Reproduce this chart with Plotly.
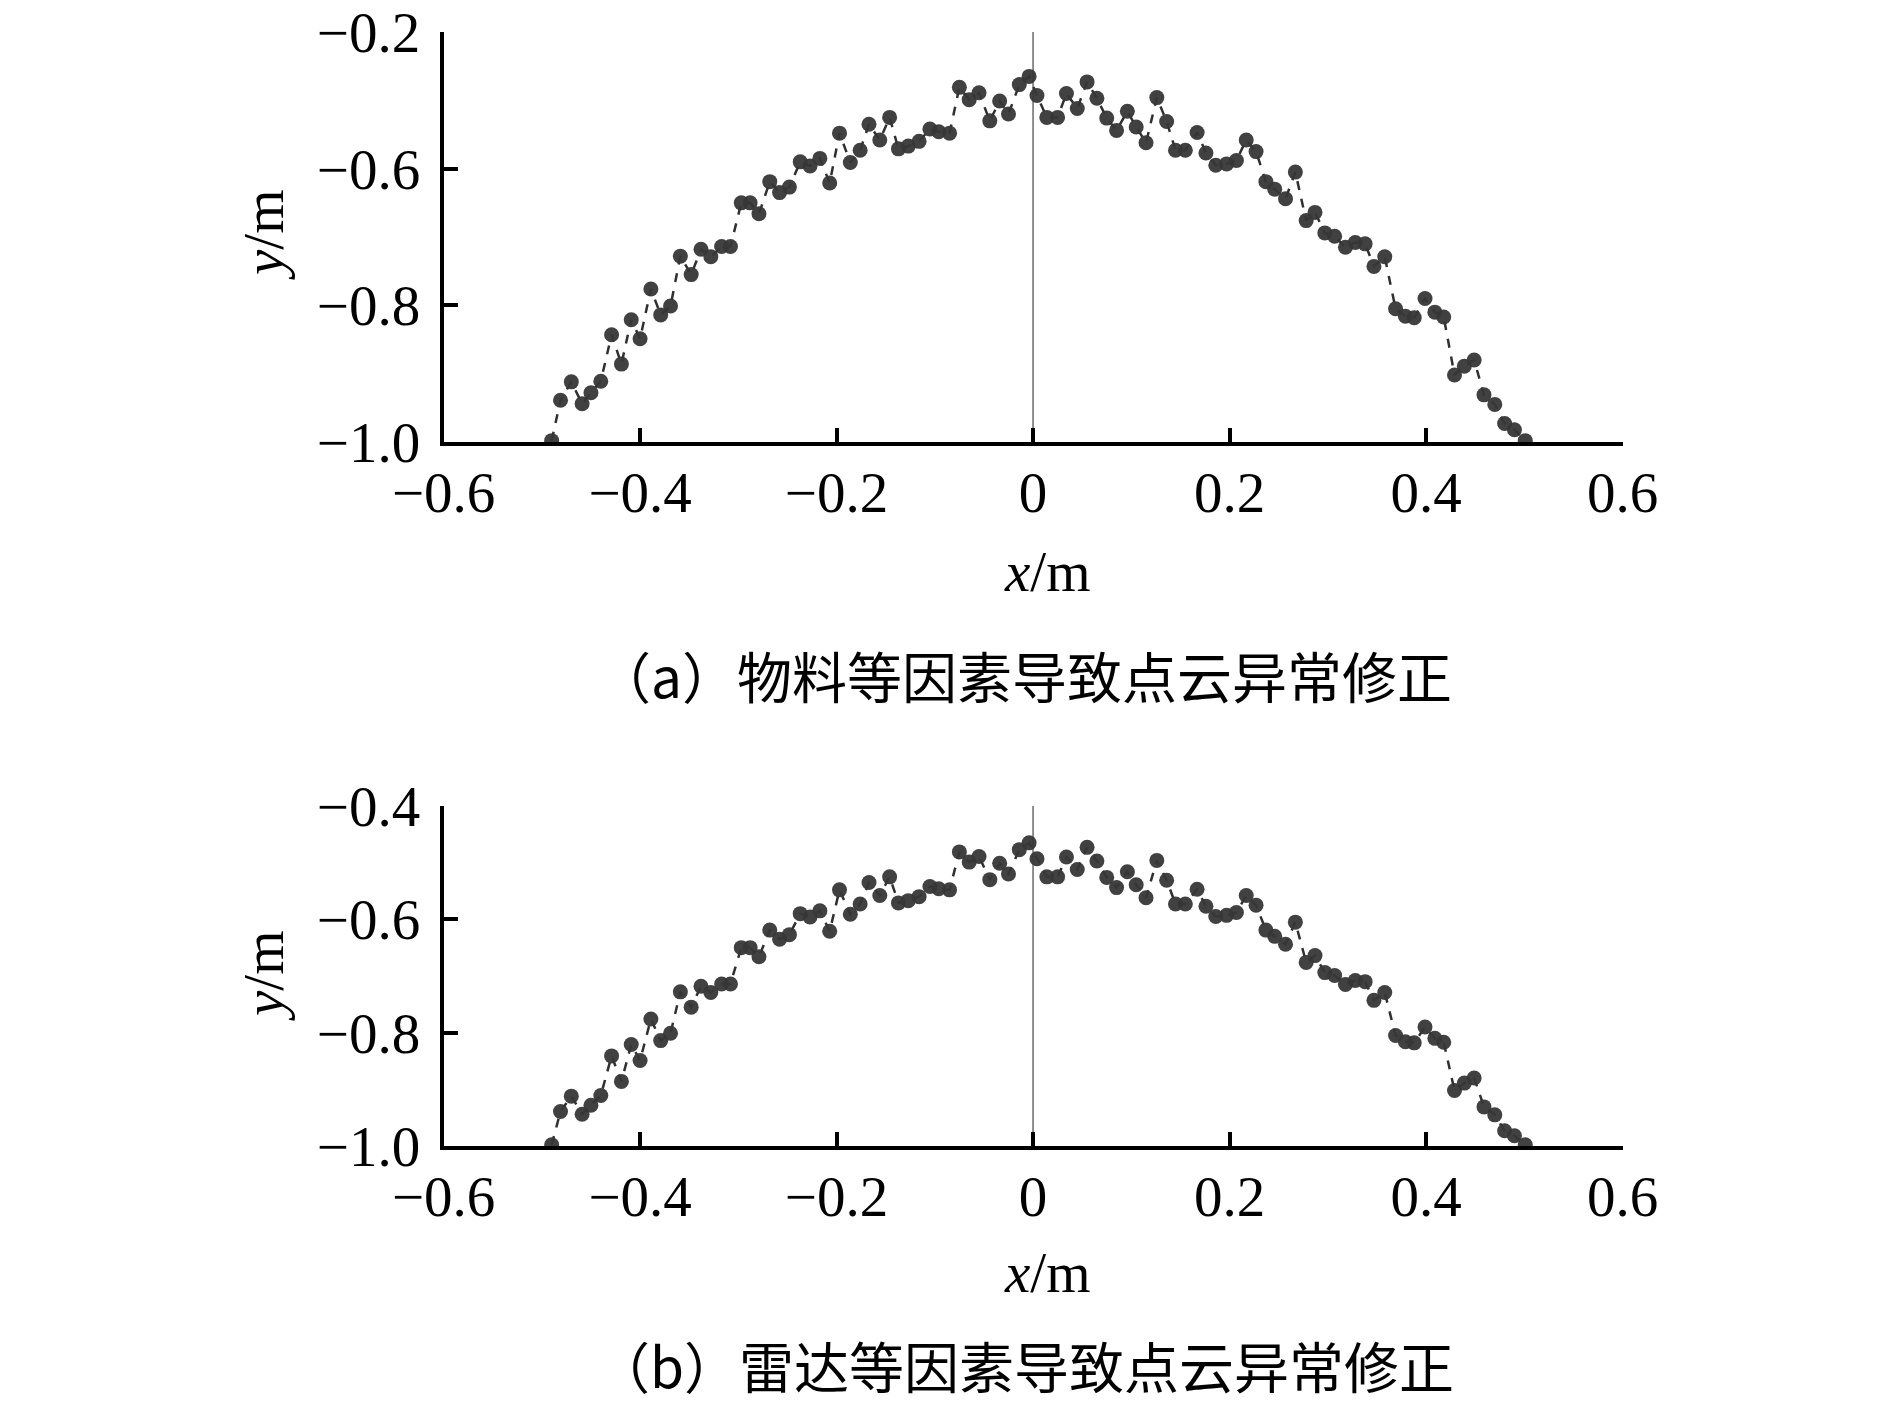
import plotly.graph_objects as go

# ---- data ----
x_pts = [-0.490,-0.481,-0.470,-0.459,-0.450,-0.440,-0.429,-0.419,-0.409,-0.400,
         -0.389,-0.379,-0.369,-0.359,-0.348,-0.338,-0.328,-0.317,-0.308,-0.297,
         -0.288,-0.279,-0.268,-0.258,-0.248,-0.237,-0.227,-0.217,-0.207,-0.197,
         -0.186,-0.176,-0.167,-0.156,-0.146,-0.137,-0.127,-0.116,-0.105,-0.096,
         -0.085,-0.075,-0.065,-0.055,-0.044,-0.034,-0.025,-0.014,-0.004,
         0.004,0.014,0.025,0.034,0.045,0.055,0.065,0.075,0.085,0.096,
         0.105,0.115,0.126,0.136,0.145,0.155,0.167,0.176,0.186,0.197,
         0.207,0.217,0.227,0.237,0.246,0.257,0.267,0.278,0.287,0.297,
         0.307,0.318,0.328,0.338,0.347,0.358,0.369,0.379,0.388,0.399,
         0.409,0.418,0.429,0.439,0.449,0.459,0.470,0.480,0.490,0.501]

y_a = [-0.998,-0.939,-0.912,-0.944,-0.928,-0.911,-0.843,-0.886,-0.821,-0.849,
       -0.776,-0.814,-0.801,-0.728,-0.755,-0.718,-0.729,-0.714,-0.714,-0.650,
       -0.650,-0.666,-0.619,-0.635,-0.627,-0.590,-0.596,-0.585,-0.621,-0.548,
       -0.591,-0.573,-0.535,-0.558,-0.525,-0.571,-0.567,-0.560,-0.542,-0.546,
       -0.548,-0.481,-0.499,-0.489,-0.530,-0.501,-0.520,-0.477,-0.465,
       -0.493,-0.525,-0.525,-0.490,-0.512,-0.473,-0.497,-0.526,-0.544,-0.516,
       -0.539,-0.562,-0.496,-0.531,-0.573,-0.573,-0.547,-0.577,-0.595,-0.593,
       -0.588,-0.558,-0.575,-0.619,-0.630,-0.644,-0.605,-0.676,-0.664,-0.694,
       -0.699,-0.715,-0.708,-0.710,-0.743,-0.729,-0.805,-0.816,-0.818,-0.790,
       -0.810,-0.817,-0.902,-0.889,-0.880,-0.931,-0.945,-0.973,-0.982,-0.998]

y_b = [-0.998,-0.939,-0.912,-0.944,-0.928,-0.911,-0.841,-0.886,-0.821,-0.849,
       -0.776,-0.814,-0.801,-0.728,-0.755,-0.718,-0.729,-0.714,-0.714,-0.650,
       -0.650,-0.666,-0.619,-0.635,-0.627,-0.590,-0.596,-0.585,-0.621,-0.548,
       -0.591,-0.573,-0.535,-0.558,-0.525,-0.571,-0.567,-0.560,-0.542,-0.546,
       -0.548,-0.481,-0.499,-0.489,-0.530,-0.501,-0.520,-0.477,-0.465,
       -0.493,-0.525,-0.525,-0.490,-0.512,-0.473,-0.497,-0.526,-0.544,-0.516,
       -0.539,-0.562,-0.496,-0.531,-0.573,-0.573,-0.547,-0.577,-0.595,-0.593,
       -0.588,-0.558,-0.575,-0.619,-0.630,-0.644,-0.605,-0.676,-0.664,-0.694,
       -0.699,-0.715,-0.708,-0.710,-0.743,-0.729,-0.805,-0.816,-0.818,-0.790,
       -0.810,-0.817,-0.902,-0.889,-0.880,-0.931,-0.945,-0.973,-0.982,-0.998]

x_ticks = [-0.6, -0.4, -0.2, 0, 0.2, 0.4, 0.6]
x_ticktext = ["−0.6", "−0.4", "−0.2", "0", "0.2", "0.4", "0.6"]
y_ticks = [-1.0, -0.8, -0.6, -0.4]
y_ticktext_a = ["−1.0", "−0.8", "−0.6", "−0.2"]
y_ticktext_b = ["−1.0", "−0.8", "−0.6", "−0.4"]
caption_a = "（a）物料等因素导致点云异常修正"
caption_b = "（b）雷达等因素导致点云异常修正"

# page is 1890x1415; the html body adds an 8px margin around the figure
OFF = 8
W, H = 1890 - 2 * OFF, 1415 - 2 * OFF
SERIF = "Liberation Serif, Times New Roman, serif"
CJK = "Noto Sans CJK SC, sans-serif"
FS = 57

def px(xp):
    return (xp - OFF) / W

def py(yp):
    return 1 - (yp - OFF) / H

fig = go.Figure()
marker = dict(size=15, color="rgba(55,55,55,0.95)", line=dict(width=0))
line = dict(color="#303030", width=2.5, dash="dash")

fig.add_trace(go.Scatter(x=x_pts, y=y_a, mode="lines+markers", marker=marker,
                         line=line, xaxis="x", yaxis="y", showlegend=False))
fig.add_trace(go.Scatter(x=x_pts, y=y_b, mode="lines+markers", marker=marker,
                         line=line, xaxis="x2", yaxis="y2", showlegend=False))

xdom = [px(443.6), px(1622.5)]
common_x = dict(range=[-0.6, 0.6], tickvals=x_ticks, ticktext=x_ticktext,
                showline=True, linewidth=4, linecolor="black", ticks="inside",
                ticklen=14, tickwidth=4, tickcolor="black", showgrid=False,
                zeroline=False, domain=xdom, automargin=False,
                ticklabelstandoff=-2, ticklabeloverflow="allow",
                tickfont=dict(family=SERIF, size=FS, color="black"))
common_y = dict(range=[-1.0, -0.4], tickvals=y_ticks,
                showline=True, linewidth=4, linecolor="black", ticks="inside",
                ticklen=14, tickwidth=4, tickcolor="black", showgrid=False,
                zeroline=False, automargin=False, ticklabelstandoff=8,
                ticklabeloverflow="allow",
                tickfont=dict(family=SERIF, size=FS, color="black"))

fig.update_layout(
    template="none",
    width=W, height=H,
    margin=dict(l=0, r=0, t=0, b=0, pad=0, autoexpand=False),
    paper_bgcolor="white", plot_bgcolor="white",
    xaxis=dict(**common_x, anchor="y"),
    yaxis=dict(**common_y, ticktext=y_ticktext_a, anchor="x",
               domain=[py(442), py(32)]),
    xaxis2=dict(**common_x, anchor="y2"),
    yaxis2=dict(**common_y, ticktext=y_ticktext_b, anchor="x2",
                domain=[py(1146), py(806)]),
)

# thin vertical reference line at x = 0
for xr, yr in (("x", "y"), ("x2", "y2")):
    fig.add_shape(type="line", xref=xr, yref=yr, x0=0, x1=0, y0=-1.0, y1=-0.4,
                  line=dict(color="#444444", width=1.2), layer="below")

ann = []
def add_text(text, xp, yp, font, angle=0):
    ann.append(dict(text=text, x=px(xp), y=py(yp), xref="paper", yref="paper",
                    showarrow=False, xanchor="center", yanchor="middle",
                    textangle=angle, font=font))

tf = dict(family=SERIF, size=FS, color="black")
cf = dict(family=CJK, size=55, color="black")
add_text("<i>y</i>/m", 263, 235, tf, -90)
add_text("<i>x</i>/m", 1047, 572, tf)
add_text(caption_a, 1024, 674, cf)
add_text("<i>y</i>/m", 263, 976, tf, -90)
add_text("<i>x</i>/m", 1047, 1272, tf)
add_text(caption_b, 1024, 1364, cf)
fig.update_layout(annotations=ann)

fig.write_html("out.html")
